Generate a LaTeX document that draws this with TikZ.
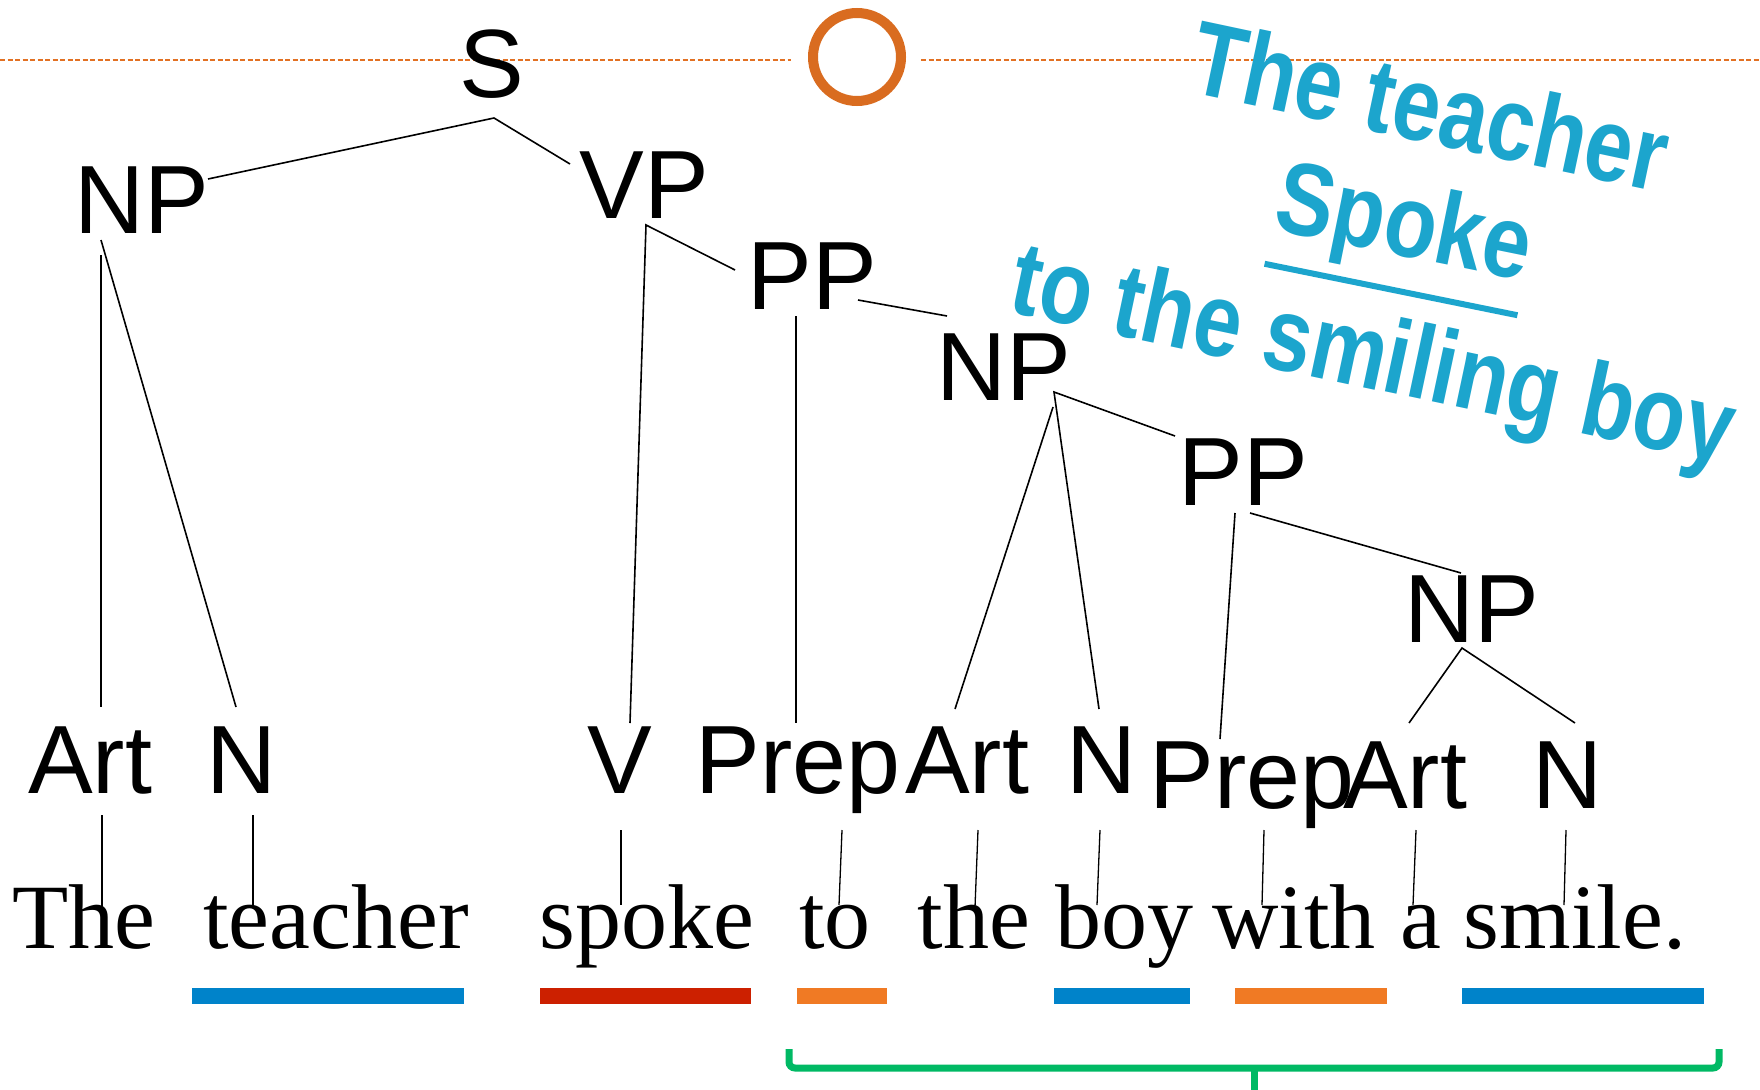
\documentclass[tikz,border=0pt]{standalone}
\usepackage{fontspec}
\setmainfont{Liberation Serif}
\newfontfamily\arialf{Liberation Sans}
\definecolor{dashorange}{RGB}{226,113,35}
\definecolor{ringorange}{RGB}{217,108,32}
\definecolor{barblue}{RGB}{0,131,202}
\definecolor{barred}{RGB}{204,32,0}
\definecolor{barorange}{RGB}{240,122,36}
\definecolor{brgreen}{RGB}{0,185,100}
\definecolor{wacyan}{RGB}{28,165,205}
\begin{document}
\begin{tikzpicture}[x=1pt,y=-1pt,
  tag/.style={font=\arialf\fontsize{97}{97}\selectfont,inner sep=0pt,anchor=base},
  word/.style={font=\fontsize{92}{92}\selectfont,inner sep=0pt,anchor=base},
  tline/.style={line width=1.6pt},
  wline/.style={line width=1.3pt},
  bar/.style={line width=16pt},
  art/.style={font=\arialf\bfseries\fontsize{86}{86}\selectfont,text=wacyan,inner sep=0pt,anchor=base}
]
\useasboundingbox[fill=white] (0,0) rectangle (1760,1089);

% dashed rule and ring
\coordinate (dl0) at (0,60);
\coordinate (dl1) at (791,60);
\coordinate (dr0) at (921,60);
\coordinate (dr1) at (1760,60);
\draw[dashorange,line width=1.8pt,dash pattern=on 5pt off 2.5pt] (dl0) -- (dl1) (dr0) -- (dr1);
\node[draw=ringorange,line width=10pt,circle,minimum size=88pt,inner sep=0pt] (ring) at (857,57) {};

% word art
\node[art,rotate=-12,yscale=1.22] (wa1) at (1423,142) {The teacher};
\node[art,rotate=-11.5,yscale=1.2] (wa2) at (1398,255) {\vtop{\hbox{Spoke}\kern9pt\hrule height 5pt}};
\node[art,rotate=-12,yscale=1.22] (wa3) at (1366,388) {to the smiling boy};

% tree labels
\node[tag] (S) at (492,98) {S};
\node[tag] (NP1) at (142,233) {NP};
\node[tag] (VP) at (644,218) {VP};
\node[tag] (PP1) at (812,309) {PP};
\node[tag] (NP2) at (1004,400) {NP};
\node[tag] (PP2) at (1243,505) {PP};
\node[tag] (NP3) at (1472,642) {NP};
\node[tag] (Art1) at (90,793) {Art};
\node[tag] (N1) at (242,793) {N};
\node[tag] (V) at (620,793) {V};
\node[tag] (Prep1) at (798,793) {Prep};
\node[tag] (Art2) at (967,793) {Art};
\node[tag] (N2) at (1102,793) {N};
\node[tag] (Prep2) at (1252,808) {Prep};
\node[tag] (Art3) at (1405,808) {Art};
\node[tag] (N3) at (1568,808) {N};

% words
\node[word] (w1) at (84,948) {The};
\node[word] (w2) at (336,948) {teacher};
\node[word] (w3) at (647,948) {spoke};
\node[word] (w4) at (835,948) {to};
\node[word] (w5) at (974,948) {the};
\node[word] (w6) at (1124,948) {boy};
\node[word] (w7) at (1294,948) {with};
\node[word] (w8) at (1421,948) {a};
\node[word] (w9) at (1575,948) {smile.};

% tree connectors
\draw[tline] ([shift={(66,-54)}]NP1.base) -- ([shift={(2,20)}]S.base) -- ([shift={(-74,-54)}]VP.base);
\draw[tline] ([shift={(-41,22)}]NP1.base) -- ([shift={(11,-86)}]Art1.base);
\draw[tline] ([shift={(-41,7)}]NP1.base) -- ([shift={(-6,-86)}]N1.base);
\draw[tline] ([shift={(-77,-39)}]PP1.base) -- ([shift={(2,7)}]VP.base) -- ([shift={(10,-70)}]V.base);
\draw[tline] ([shift={(46,-9)}]PP1.base) -- ([shift={(-57,-84)}]NP2.base);
\draw[tline] ([shift={(-16,7)}]PP1.base) -- ([shift={(-2,-70)}]Prep1.base);
\draw[tline] ([shift={(-68,-69)}]PP2.base) -- ([shift={(50,-8)}]NP2.base) -- ([shift={(-3,-84)}]N2.base);
\draw[tline] ([shift={(49,7)}]NP2.base) -- ([shift={(-12,-84)}]Art2.base);
\draw[tline] ([shift={(-8,8)}]PP2.base) -- ([shift={(-32,-69)}]Prep2.base);
\draw[tline] ([shift={(7,8)}]PP2.base) -- ([shift={(-11,-69)}]NP3.base);
\draw[tline] ([shift={(4,-85)}]Art3.base) -- ([shift={(-10,6)}]NP3.base) -- ([shift={(7,-85)}]N3.base);

% tag to word connectors
\draw[wline] ([shift={(12,22)}]Art1.base) -- ([shift={(18,-41)}]w1.base);
\draw[wline] ([shift={(11,22)}]N1.base) -- ([shift={(-83,-41)}]w2.base);
\draw[wline] ([shift={(1,37)}]V.base) -- ([shift={(-26,-43)}]w3.base);
\draw[wline] ([shift={(44,37)}]Prep1.base) -- ([shift={(4,-43)}]w4.base);
\draw[wline] ([shift={(11,37)}]Art2.base) -- ([shift={(1,-41)}]w5.base);
\draw[wline] ([shift={(-2,37)}]N2.base) -- ([shift={(-27,-43)}]w6.base);
\draw[wline] ([shift={(12,22)}]Prep2.base) -- ([shift={(-32,-43)}]w7.base);
\draw[wline] ([shift={(11,22)}]Art3.base) -- ([shift={(-8,-43)}]w8.base);
\draw[wline] ([shift={(-2,22)}]N3.base) -- ([shift={(-11,-43)}]w9.base);

% coloured bars
\draw[bar,barblue] (192,996) -- (464,996);
\draw[bar,barred] (540,996) -- (751,996);
\draw[bar,barorange] (797,996) -- (887,996);
\draw[bar,barblue] (1054,996) -- (1190,996);
\draw[bar,barorange] (1235,996) -- (1387,996);
\draw[bar,barblue] (1462,996) -- (1704,996);

% green bracket
\draw[brgreen,line width=7pt,rounded corners=6pt] (789,1049) -- (789,1068) -- (1719,1068) -- (1719,1049);
\draw[brgreen,line width=7pt] (1254,1066) -- (1254,1095);
\end{tikzpicture}
\end{document}
